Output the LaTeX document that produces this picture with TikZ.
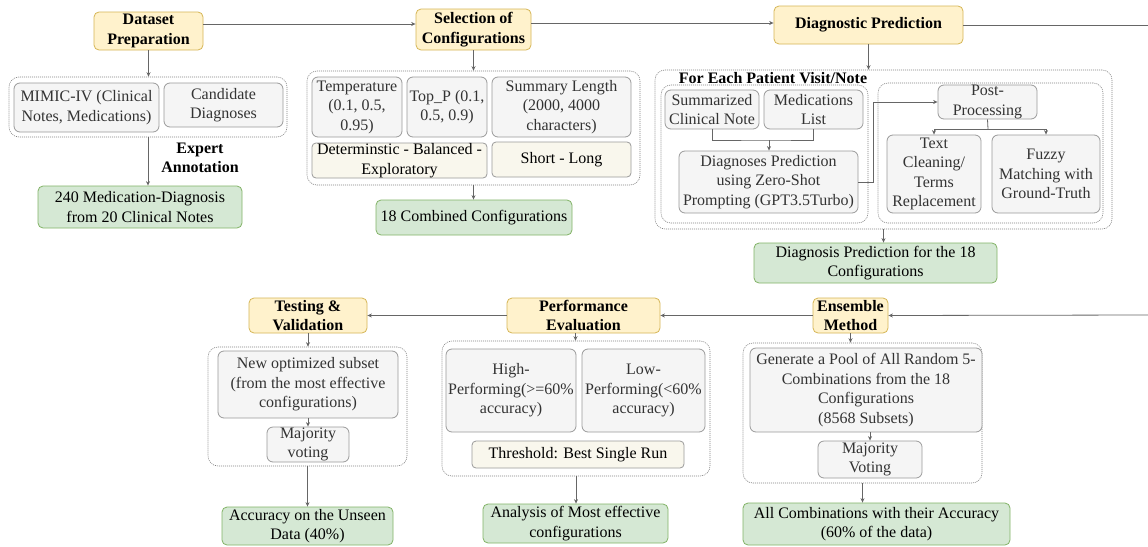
\documentclass[tikz,border=0pt]{standalone}
\usepackage{fontspec}
\setmainfont{Liberation Serif}
\usetikzlibrary{arrows.meta,calc}
\definecolor{yfill}{HTML}{FFF2CC}
\definecolor{ybord}{HTML}{D6B656}
\definecolor{gfill}{HTML}{D5E8D4}
\definecolor{gbord}{HTML}{82B366}
\definecolor{sfill}{HTML}{F5F5F5}
\definecolor{sbord}{HTML}{9A9A9A}
\definecolor{bfill}{HTML}{F9F7ED}
\definecolor{stext}{HTML}{333333}
\definecolor{lcol}{HTML}{666666}
\newcommand\mkbox[7]{\node[#2, minimum width={(#5-#3)*1pt}, minimum height={(#6-#4)*1pt}] (#1) at ({(#3+#5)/2},{(#4+#6)/2}) {#7};}
\tikzset{
  base/.style={inner sep=0pt, align=center, line width=0.8pt, font=\fontsize{16}{19.5}\selectfont},
  titlebox/.style={base, draw=ybord, fill=yfill, rounded corners=5pt, font=\fontsize{16}{19.5}\selectfont\bfseries},
  greybox/.style={base, draw=sbord, fill=sfill, text=stext, rounded corners=6pt},
  beigebox/.style={base, draw=sbord, fill=bfill, text=black, rounded corners=4pt},
  resbox/.style={base, draw=gbord, fill=gfill, rounded corners=5pt},
  contbox/.style={base, draw=gray, dash pattern=on 1pt off 1pt, line width=0.6pt, rounded corners=10pt},
  arr/.style={draw=lcol, line width=0.8pt, -{Stealth[length=4.5pt,width=4pt]}},
  ln/.style={draw=lcol, line width=0.8pt},
  lbl/.style={inner sep=0pt, align=center, font=\fontsize{16}{19.5}\selectfont\bfseries}
}
\begin{document}
\begin{tikzpicture}[x=1pt,y=-1pt]
\fill[white] (0,0) rectangle (1148,546);
\useasboundingbox (0,0) rectangle (1148,546);

% ---------- Dataset preparation
\mkbox{ds}{titlebox}{94}{12}{203}{50}{Dataset\\Preparation}
\mkbox{dsc}{contbox}{9}{77}{287}{137}{}
\mkbox{mimic}{greybox}{14}{83}{159}{132}{MIMIC-IV (Clinical\\Notes, Medications)}
\mkbox{cand}{greybox}{164}{83}{283}{127}{Candidate\\Diagnoses}
\node[lbl] (expert) at (200,158) {Expert\\Annotation};
\mkbox{dsres}{resbox}{38}{186}{242}{228}{240 Medication-Diagnosis\\from 20 Clinical Notes}

% ---------- Selection of configurations
\mkbox{sel}{titlebox}{416}{9}{531}{50}{Selection of\\Configurations}
\mkbox{selc}{contbox}{307}{71}{640}{185}{}
\mkbox{temp}{greybox}{312}{77}{402}{137}{Temperature\\(0.1, 0.5,\\0.95)}
\mkbox{topp}{greybox}{407}{77}{487}{137}{Top\_P (0.1,\\0.5, 0.9)}
\mkbox{slen}{greybox}{492}{77}{631}{137}{Summary Length\\(2000, 4000\\characters)}
\mkbox{det}{beigebox}{312}{143}{487}{178}{Determinstic - Balanced -\\Exploratory}
\mkbox{shl}{beigebox}{492}{142}{631}{177}{Short - Long}
\mkbox{selres}{resbox}{376}{200}{572}{235}{18 Combined Configurations}

% ---------- Diagnostic prediction
\mkbox{dp}{titlebox}{774}{6}{963}{44}{Diagnostic Prediction}
\mkbox{dpc}{contbox}{655}{70}{1112}{229}{}
\mkbox{dpl}{contbox}{661}{85}{868}{223}{}
\mkbox{dpr}{contbox}{878}{83}{1103}{223}{}
\node[lbl] (each) at (773,78) {For Each Patient Visit/Note};
\mkbox{summ}{greybox}{665}{90}{759}{129}{Summarized\\Clinical Note}
\mkbox{meds}{greybox}{764}{90}{863}{129}{Medications\\List}
\mkbox{diag}{greybox}{679}{151}{858}{213}{Diagnoses Prediction\\using Zero-Shot\\Prompting (GPT3.5Turbo)}
\mkbox{post}{greybox}{938}{85}{1037}{119}{Post-\\Processing}
\mkbox{clean}{greybox}{887}{135}{981}{213}{Text\\Cleaning/\\Terms\\Replacement}
\mkbox{fuzzy}{greybox}{992}{135}{1100}{213}{Fuzzy\\Matching with\\Ground-Truth}
\mkbox{dpres}{resbox}{754}{243}{997}{283}{Diagnosis Prediction for the 18\\Configurations}

% ---------- Ensemble method
\mkbox{ens}{titlebox}{813}{298}{888}{333}{Ensemble\\Method}
\mkbox{ensc}{contbox}{743}{343}{982}{483}{}
\mkbox{gen}{greybox}{750}{348}{982}{432}{Generate a Pool of All Random 5-\\Combinations from the 18\\Configurations\\(8568 Subsets)}
\mkbox{maj2}{greybox}{818}{441}{922}{478}{Majority\\Voting}
\mkbox{ensres}{resbox}{743}{503}{1010}{545}{All Combinations with their Accuracy\\(60\% of the data)}

% ---------- Performance evaluation
\mkbox{perf}{titlebox}{507}{298}{660}{333}{Performance\\Evaluation}
\mkbox{perfc}{contbox}{442}{341}{710}{476}{}
\mkbox{high}{greybox}{446}{349}{576}{432}{High-\\Performing(>=60\%\\accuracy)}
\mkbox{low}{greybox}{582}{349}{705}{432}{Low-\\Performing(<60\%\\accuracy)}
\mkbox{thr}{beigebox}{472}{441}{684}{468}{Threshold: Best Single Run}
\mkbox{perfres}{resbox}{483}{504}{668}{543}{Analysis of Most effective\\configurations}

% ---------- Testing & validation
\mkbox{test}{titlebox}{249}{298}{367}{333}{Testing \&\\Validation}
\mkbox{testc}{contbox}{208}{347}{407}{466}{}
\mkbox{sub}{greybox}{218}{351}{398}{418}{New optimized subset\\(from the most effective\\configurations)}
\mkbox{maj1}{greybox}{267}{427}{349}{462}{Majority\\voting}
\mkbox{testres}{resbox}{222}{507}{393}{545}{Accuracy on the Unseen\\Data (40\%)}

% ---------- edge coordinates
\coordinate (outR) at (1148,25);
\coordinate (inR) at (1148,315);
\coordinate (j1) at (769,140);
\coordinate (j2) at (988,129);

% ---------- connectors, top row
\draw[arr] ([yshift=7pt]ds.east) -- ([yshift=5.5pt]sel.west);
\draw[arr] ([yshift=6.5pt]sel.east) -- ([yshift=2pt]dp.west);
\draw[ln] (dp.east) -- (outR);
\draw[arr] (ds.south) -- (ds.south |- dsc.north);
\draw[arr] (dsc.south) -- (dsc.south |- dsres.north);
\draw[arr] (sel.south) -- (sel.south |- selc.north);
\draw[arr] (selc.south) -- (selc.south |- selres.north);
\draw[arr] (dp.south) -- (dp.south |- dpc.north);
\draw[arr] (dpc.south) -- (dpc.south |- dpres.north);
\draw[ln] (summ.south) |- (j1) -| (meds.south);
\draw[arr] (j1) -- (j1 |- diag.north);
\draw[arr] (diag.east) -- ++(15,0) |- (post.west);
\draw[ln] (post.south) -- (j2);
\draw[arr] (j2) -| (clean.north);
\draw[arr] (j2) -| (fuzzy.north);

% ---------- connectors, bottom row
\draw[arr] (inR) -- (ens.east);
\draw[arr] (ens.west) -- (perf.east);
\draw[arr] (perf.west) -- (test.east);
\draw[arr] (ens.south) -- (ens.south |- ensc.north);
\draw[arr] (maj2.north |- gen.south) -- (maj2.north);
\draw[arr] (ensc.south) -- (ensc.south |- ensres.north);
\draw[arr] (perfres.north |- perf.south) -- (perfres.north |- perfc.north);
\draw[arr] (perfc.south) -- (perfc.south |- perfres.north);
\draw[arr] (test.south) -- (test.south |- testc.north);
\draw[arr] (sub.south) -- (maj1.north);
\draw[arr] (testc.south) -- (testc.south |- testres.north);
\end{tikzpicture}
\end{document}
